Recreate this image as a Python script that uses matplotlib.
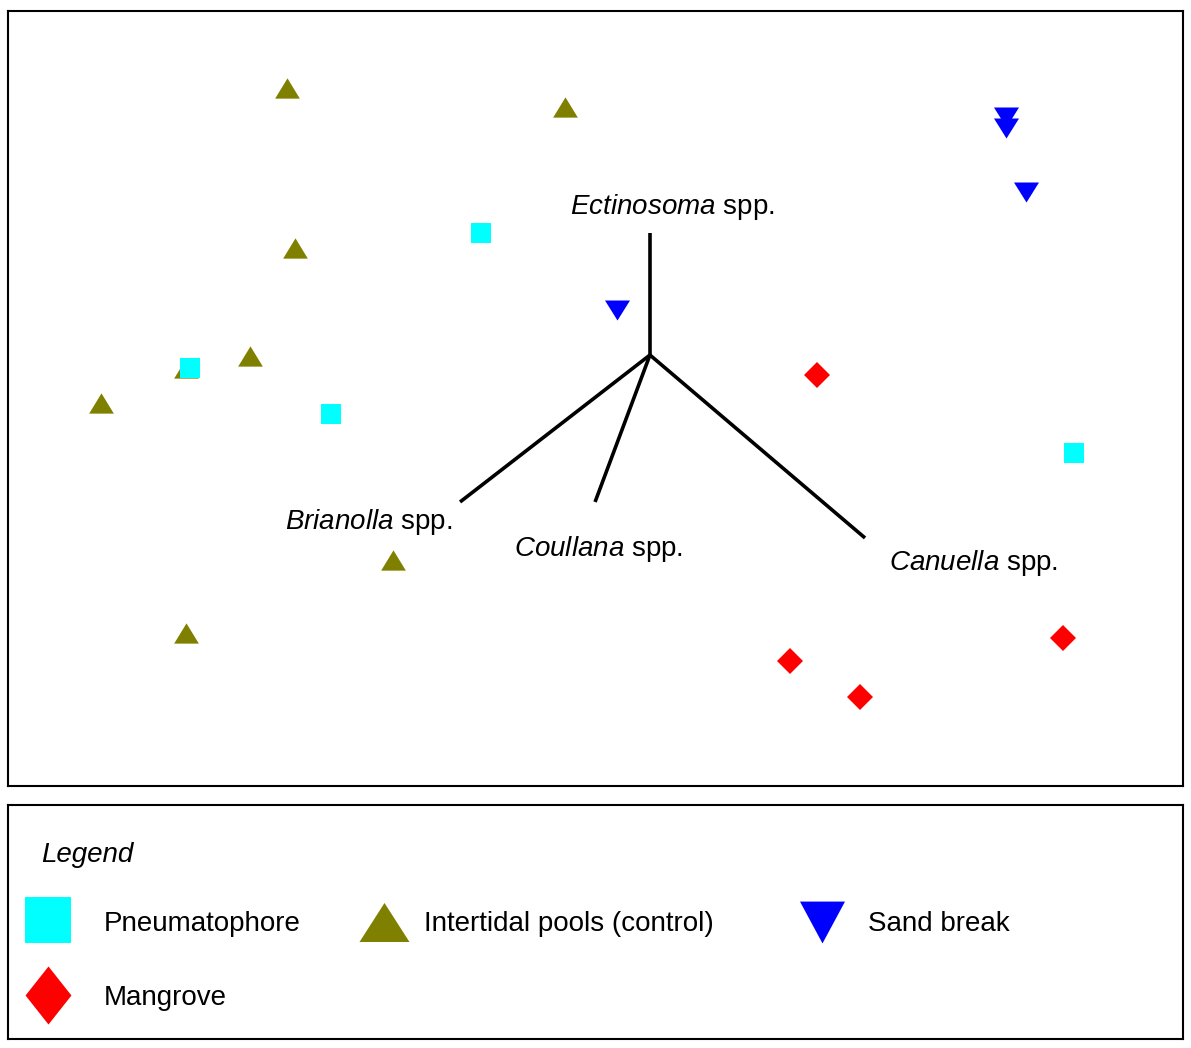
"""MDS ordination of copepod samples by habitat, with species vectors."""

import matplotlib
matplotlib.use("Agg")
import matplotlib.pyplot as plt
import numpy as np

plt.rcParams["font.family"] = ["Liberation Sans", "DejaVu Sans"]
plt.rcParams["mathtext.fontset"] = "custom"
plt.rcParams["mathtext.it"] = "Liberation Sans:italic"
plt.rcParams["mathtext.rm"] = "Liberation Sans"

# MDS coordinates per habitat
pneu_x = [-0.563, -1.533, -1.063, 1.413]
pneu_y = [0.407, -0.043, -0.197, -0.327]

pools_x = [-1.210, -0.283, -1.183, -1.333, -1.830, -0.857, -1.547, -1.545]
pools_y = [0.890, 0.827, 0.357, -0.002, -0.160, -0.683, -0.927, -0.042]

sand_x = [1.187, 1.187, 1.253, -0.110]
sand_y = [0.793, 0.757, 0.543, 0.150]

mang_x = [0.557, 1.377, 0.467, 0.700]
mang_y = [-0.065, -0.943, -1.020, -1.140]

# species vectors (from origin)
species = ["Ectinosoma", "Brianolla", "Coullana", "Canuella"]
vec_x = [0.0, -0.633, -0.183, 0.717]
vec_y = [0.407, -0.490, -0.490, -0.610]
label_x = [0.073, -0.937, -0.170, 1.080]
label_y = [0.493, -0.557, -0.647, -0.694]

legend_labels = ["Pneumatophore", "Intertidal pools (control)", "Sand break", "Mangrove"]

CYAN = "#00ffff"
OLIVE = "#808000"
BLUE = "#0000ff"
RED = "#ff0000"

up_tri = np.array([[-1, -0.82], [1, -0.82], [0, 0.82], [-1, -0.82]])
down_tri = np.array([[-1, 0.8], [1, 0.8], [0, -0.8], [-1, 0.8]])

fig = plt.figure(figsize=(11.91, 10.48), dpi=100)

ax = fig.add_axes([8 / 1191, 262 / 1048, 1175 / 1191, 775 / 1048])
ax.plot(pools_x, pools_y, linestyle="none", marker=up_tri, markersize=17.8,
        color=OLIVE, markeredgewidth=0)
ax.plot(pneu_x, pneu_y, linestyle="none", marker="s", markersize=14.4,
        color=CYAN, markeredgewidth=0)
ax.plot(sand_x, sand_y, linestyle="none", marker=down_tri, markersize=18,
        color=BLUE, markeredgewidth=0)
ax.plot(mang_x, mang_y, linestyle="none", marker="D", markersize=13.2,
        color=RED, markeredgewidth=0)

for name, vx, vy, lx, ly in zip(species, vec_x, vec_y, label_x, label_y):
    ax.plot([0, vx], [0, vy], color="black", linewidth=2.6, solid_capstyle="butt")
    ax.text(lx, ly, rf"$\it{{{name}}}$ spp.", fontsize=20, ha="center", va="center")

ax.set_xlim(-2.14, 1.777)
ax.set_ylim(-1.437, 1.147)
ax.set_xticks([])
ax.set_yticks([])
for sp in ax.spines.values():
    sp.set_linewidth(1.5)
    sp.set_color("black")

# legend panel
lax = fig.add_axes([8 / 1191, 9 / 1048, 1175 / 1191, 234 / 1048])
lax.set_xlim(0, 1)
lax.set_ylim(0, 1)
lax.set_xticks([])
lax.set_yticks([])
for sp in lax.spines.values():
    sp.set_linewidth(1.5)
    sp.set_color("black")

lax.text(0.028, 0.787, "Legend", fontsize=20, style="italic", va="center", ha="left")

leg_tri = np.array([[-1, -0.78], [1, -0.78], [0, 0.78], [-1, -0.78]])
leg_dtri = np.array([[-1, 0.93], [1, 0.93], [0, -0.93], [-1, 0.93]])
leg_diam = np.array([[0, 1], [0.79, 0], [0, -1], [-0.79, 0], [0, 1]])

lax.plot(0.034, 0.509, marker="s", markersize=33, color=CYAN, markeredgewidth=0)
lax.plot(0.320, 0.500, marker=leg_tri, markersize=36, color=OLIVE, markeredgewidth=0)
lax.plot(0.693, 0.500, marker=leg_dtri, markersize=32.4, color=BLUE, markeredgewidth=0)
lax.plot(0.034, 0.188, marker=leg_diam, markersize=41.8, color=RED, markeredgewidth=0)

text_pos = [(0.0817, 0.492), (0.354, 0.492), (0.732, 0.492), (0.0817, 0.176)]
for lbl, (tx, ty) in zip(legend_labels, text_pos):
    lax.text(tx, ty, lbl, fontsize=20, va="center", ha="left")

fig.savefig("out.png", dpi=100)
